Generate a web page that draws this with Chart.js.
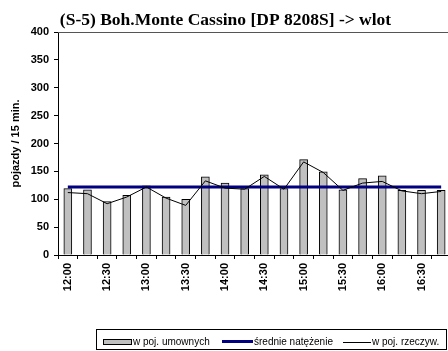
<!DOCTYPE html>
<html>
<head>
<meta charset="utf-8">
<script src="https://cdn.jsdelivr.net/npm/chart.js@4"></script>
<style>
  html, body { margin: 0; padding: 0; background: #fff; overflow: hidden; }
  #wrap { width: 451px; height: 351px; position: relative; }
</style>
</head>
<body>
<div id="wrap"><canvas id="c"></canvas></div>
<script>
// 15-minute intervals
const categories = ['12:00','12:15','12:30','12:45','13:00','13:15','13:30','13:45','14:00','14:15',
                    '14:30','14:45','15:00','15:15','15:30','15:45','16:00','16:15','16:30','16:45'];
// labels shown under the axis (every half hour)
const tickLabels = ['12:00','','12:30','','13:00','','13:30','','14:00','',
                    '14:30','','15:00','','15:30','','16:00','','16:30',''];
// vehicles in passenger-car units
const umowne = [119,117,96,107,124,104,100,140,129,119,144,119,171,149,117,137,142,116,116,116];
// actual vehicles
const rzeczywiste = [112,110,92,104,122,102,89,133,120,118,141,118,167,148,116,129,132,115,110,114];
// mean flow
const srednie = [122,122,122,122,122,122,122,122,122,122,122,122,122,122,122,122,122,122,122,122];
const yTicks = { min: 0, max: 400, step: 50 };

const sans = '"Liberation Sans", Arial, sans-serif';

// plot frame top edge and the boxed key below the axis
const keyBox = {
  id: 'keyBox',
  afterDraw(chart) {
    const ctx = chart.ctx;
    const a = chart.chartArea;
    const ds = chart.data.datasets;
    ctx.save();
    ctx.strokeStyle = '#555';
    ctx.lineWidth = 1;
    ctx.beginPath();
    ctx.moveTo(a.left, Math.round(a.top) + 0.5);
    ctx.lineTo(a.right, Math.round(a.top) + 0.5);
    ctx.stroke();

    ctx.strokeStyle = '#000';
    ctx.strokeRect(96.5, 329.5, 350, 20);

    ctx.font = '10px ' + sans;
    ctx.textBaseline = 'middle';
    ctx.textAlign = 'left';
    const cy = 342;

    // bar swatch
    ctx.fillStyle = ds[0].backgroundColor;
    ctx.fillRect(103, 339, 29, 5);
    ctx.strokeStyle = ds[0].borderColor;
    ctx.lineWidth = 1;
    ctx.strokeRect(103.5, 339.5, 28, 5);
    ctx.fillStyle = '#000';
    ctx.fillText(ds[0].label, 133, cy);

    // mean line swatch
    ctx.strokeStyle = ds[1].borderColor;
    ctx.lineWidth = ds[1].borderWidth;
    ctx.beginPath(); ctx.moveTo(222, 341.5); ctx.lineTo(253, 341.5); ctx.stroke();
    ctx.fillText(ds[1].label, 254, cy);

    // actual vehicles swatch
    ctx.strokeStyle = ds[2].borderColor;
    ctx.lineWidth = ds[2].borderWidth;
    ctx.beginPath(); ctx.moveTo(343, 342.5); ctx.lineTo(371, 342.5); ctx.stroke();
    ctx.fillText(ds[2].label, 372, cy);
    ctx.restore();
  }
};

new Chart(document.getElementById('c'), {
  type: 'bar',
  data: {
    labels: categories,
    datasets: [
      {
        label: 'w poj. umownych',
        data: umowne,
        backgroundColor: '#c0c0c0',
        borderColor: '#000',
        borderWidth: 1,
        barThickness: 8,
        order: 3
      },
      {
        type: 'line',
        label: 'średnie natężenie',
        data: srednie,
        borderColor: '#000080',
        borderWidth: 3,
        pointRadius: 0,
        fill: false,
        order: 2
      },
      {
        type: 'line',
        label: 'w poj. rzeczyw.',
        data: rzeczywiste,
        borderColor: '#000',
        borderWidth: 1,
        pointRadius: 0,
        tension: 0,
        fill: false,
        order: 1
      }
    ]
  },
  options: {
    responsive: true,
    maintainAspectRatio: false,
    animation: false,
    layout: { padding: 0 },
    plugins: {
      legend: { display: false },
      tooltip: { enabled: false },
      title: {
        display: true,
        text: '(S-5) Boh.Monte Cassino [DP 8208S] -> wlot',
        color: '#000',
        font: { family: '"Liberation Serif", "Times New Roman", serif', size: 17.5, weight: 'bold' },
        padding: { top: 10, bottom: 1 }
      }
    },
    scales: {
      x: {
        offset: true,
        grid: { offset: true, drawOnChartArea: false, tickLength: 4, color: '#000' },
        border: { color: '#000', width: 1 },
        ticks: {
          autoSkip: false,
          minRotation: 90,
          maxRotation: 90,
          padding: 4,
          color: '#000',
          font: { family: sans, size: 11, weight: 'bold' },
          callback: (v, i) => tickLabels[i]
        },
        afterFit: s => { s.height = 96; s.paddingLeft = 0; s.paddingRight = 0; }
      },
      y: {
        min: yTicks.min,
        max: yTicks.max,
        grid: { drawOnChartArea: false, tickLength: 4, color: '#000' },
        border: { color: '#000', width: 1 },
        ticks: {
          stepSize: yTicks.step,
          padding: 5,
          color: '#000',
          font: { family: sans, size: 11, weight: 'bold' }
        },
        title: {
          display: true,
          text: 'pojazdy / 15 min.',
          color: '#000',
          font: { family: sans, size: 11, weight: 'bold' },
          padding: { top: 9, bottom: 0 }
        },
        afterFit: s => { s.width = 58; }
      }
    }
  },
  plugins: [keyBox]
});
</script>
</body>
</html>
